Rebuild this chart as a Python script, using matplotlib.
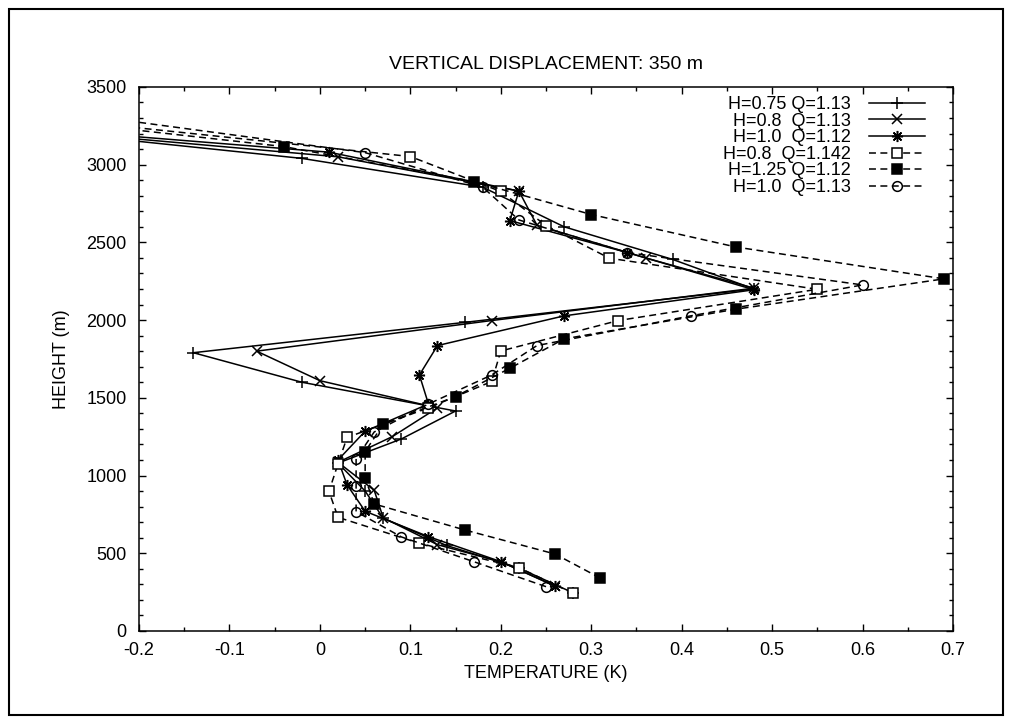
import matplotlib
matplotlib.use("Agg")
import matplotlib.pyplot as plt
from matplotlib.patches import Rectangle
from matplotlib.ticker import MultipleLocator, FuncFormatter

plt.rcParams['font.family'] = ['Liberation Sans', 'DejaVu Sans']
plt.rcParams['axes.unicode_minus'] = False
plt.rcParams['lines.scale_dashes'] = False

# values (T in K, height in m); last point lies off the plot to the left
t_075_113 = [0.28, 0.22, 0.14, 0.07, 0.05, 0.02, 0.09, 0.15, -0.02, -0.14, 0.16, 0.48, 0.39, 0.27, 0.18, -0.02, -0.30]
h_075_113 = [245, 405, 550, 725, 900, 1080, 1235, 1415, 1600, 1790, 1985, 2200, 2390, 2600, 2855, 3040, 3210]

t_08_113 = [0.26, 0.20, 0.13, 0.07, 0.06, 0.02, 0.08, 0.13, 0.00, -0.07, 0.19, 0.48, 0.36, 0.24, 0.22, 0.02, -0.30]
h_08_113 = [290, 445, 555, 728, 905, 1085, 1250, 1435, 1610, 1800, 1997, 2205, 2400, 2610, 2830, 3050, 3215]

t_10_112 = [0.26, 0.20, 0.12, 0.05, 0.03, 0.02, 0.05, 0.12, 0.11, 0.13, 0.27, 0.48, 0.34, 0.21, 0.22, 0.01, -0.30]
h_10_112 = [288, 446, 607, 770, 940, 1100, 1285, 1460, 1647, 1836, 2027, 2195, 2434, 2640, 2830, 3080, 3225]

t_08_1142 = [0.28, 0.22, 0.11, 0.02, 0.01, 0.02, 0.03, 0.12, 0.19, 0.20, 0.33, 0.55, 0.32, 0.25, 0.20, 0.10, -0.30]
h_08_1142 = [242, 407, 564, 731, 898, 1075, 1245, 1435, 1605, 1801, 1997, 2198, 2398, 2608, 2827, 3052, 3297]

t_125_112 = [0.31, 0.26, 0.16, 0.06, 0.05, 0.05, 0.07, 0.15, 0.21, 0.27, 0.46, 0.69, 0.46, 0.30, 0.17, -0.04, -0.30]
h_125_112 = [340, 495, 650, 817, 985, 1154, 1330, 1508, 1690, 1879, 2070, 2265, 2470, 2679, 2891, 3116, 3285]

t_10_113 = [0.25, 0.17, 0.09, 0.04, 0.04, 0.04, 0.06, 0.12, 0.19, 0.24, 0.41, 0.60, 0.34, 0.22, 0.18, 0.05, -0.30]
h_10_113 = [285, 446, 605, 768, 935, 1108, 1280, 1460, 1647, 1836, 2027, 2226, 2434, 2644, 2855, 3077, 3350]

fig = plt.figure(figsize=(10.12, 7.24), dpi=100)
ax = fig.add_axes([0.1374, 0.1285, 0.8043, 0.7515])

dash = (0, (5, 3.2))
ax.plot(t_075_113, h_075_113, color='black', lw=1.1, marker='+', ms=9, mew=1.1, label='H=0.75 Q=1.13')
ax.plot(t_08_113, h_08_113, color='black', lw=1.1, marker='x', ms=7, mew=1.1, label='H=0.8  Q=1.13')
ax.plot(t_10_112, h_10_112, color='black', lw=1.1, marker=(8, 2, 0), ms=8, mew=1.1, label='H=1.0  Q=1.12')
ax.plot(t_08_1142, h_08_1142, color='black', lw=1.1, ls=dash, marker='s', ms=6.5, mew=1.1,
        mfc='white', label='H=0.8  Q=1.142')
ax.plot(t_125_112, h_125_112, color='black', lw=1.1, ls=dash, marker='s', ms=6.5, mew=1.1,
        mfc='black', label='H=1.25 Q=1.12')
ax.plot(t_10_113, h_10_113, color='black', lw=1.1, ls=dash, marker='o', ms=7, mew=1.1,
        mfc='none', label='H=1.0  Q=1.13')

ax.set_xlim(-0.2, 0.7)
ax.set_ylim(0, 3500)
ax.xaxis.set_major_locator(MultipleLocator(0.1))
ax.xaxis.set_minor_locator(MultipleLocator(0.05))
ax.yaxis.set_major_locator(MultipleLocator(500))
ax.yaxis.set_minor_locator(MultipleLocator(100))
fmt = FuncFormatter(lambda v, p: f"{round(v, 3):g}")
ax.xaxis.set_major_formatter(fmt)
ax.yaxis.set_major_formatter(fmt)
ax.tick_params(which='both', direction='in', top=True, right=True, width=1.0, labelsize=13)
ax.tick_params(which='major', length=5)
ax.tick_params(which='minor', length=2.7)
ax.tick_params(axis='x', pad=8)
ax.tick_params(axis='y', pad=9)
for s in ax.spines.values():
    s.set_linewidth(1.1)

ax.set_xlabel('TEMPERATURE (K)', fontsize=13, labelpad=4)
ax.set_ylabel('HEIGHT (m)', fontsize=13, labelpad=12)
ax.set_title('VERTICAL DISPLACEMENT: 350 m', fontsize=14, pad=13)

leg = ax.legend(loc='upper right', bbox_to_anchor=(0.970, 0.990), frameon=False, markerfirst=False,
                fontsize=13, handlelength=3.1, handletextpad=1.0, labelspacing=-0.02, numpoints=1,
                borderaxespad=0.0, borderpad=0.2)
for t in leg.get_texts():
    t.set_ha('right')

fig.patches.append(Rectangle((9 / 1012, 9 / 724), 994 / 1012, 706 / 724, transform=fig.transFigure,
                             fill=False, edgecolor='black', lw=1.5))

fig.savefig('out.png', dpi=100)
